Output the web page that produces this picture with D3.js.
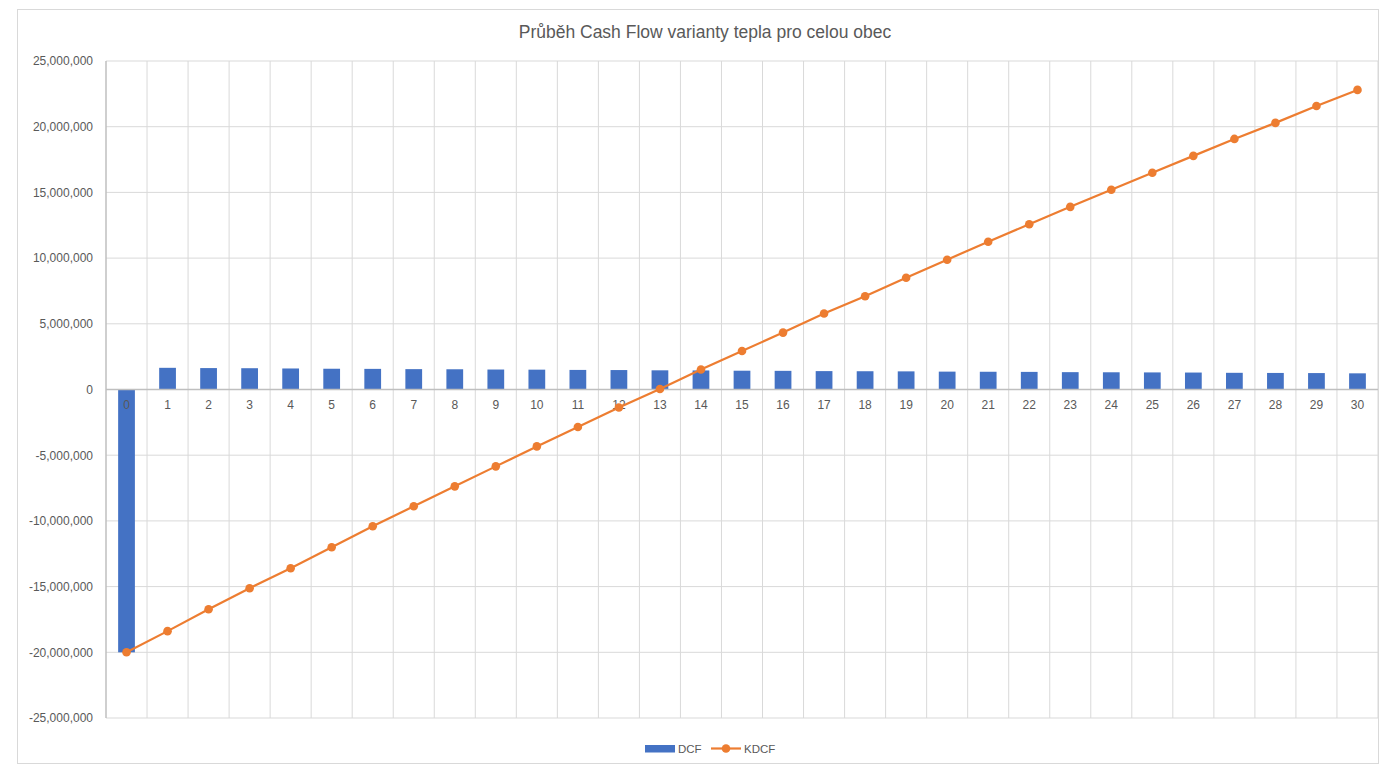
<!DOCTYPE html>
<html><head><meta charset="utf-8">
<script src="https://cdn.jsdelivr.net/npm/d3@7"></script>
<style>body{margin:0;background:#fff;}svg{display:block;font-family:"Liberation Sans",Arial,sans-serif;}</style>
</head><body>
<svg id="c" width="1380" height="765"></svg>
<script>
const title = "Průběh Cash Flow varianty tepla pro celou obec";
const years = d3.range(0, 31).map(String);
const dcf = [-20000000,
  1650000,1630000,1620000,1600000,1580000,1570000,1550000,1540000,1520000,1510000,
  1490000,1480000,1460000,1450000,1430000,1420000,1400000,1390000,1380000,1360000,
  1350000,1340000,1320000,1310000,1300000,1290000,1270000,1260000,1250000,1230000];
const kdcf = [-20000000,-18390000,-16720000,-15120000,-13600000,-12000000,-10410000,-8890000,-7370000,-5850000,-4330000,
  -2850000,-1370000,40000,1520000,2930000,4330000,5780000,7100000,8510000,9880000,
  11250000,12580000,13900000,15200000,16490000,17780000,19070000,20290000,21580000,22800000];
const yTicks = [-25000000,-20000000,-15000000,-10000000,-5000000,0,5000000,10000000,15000000,20000000,25000000];
const seriesNames = ["DCF","KDCF"];
const colors = {DCF:"#4472C4", KDCF:"#ED7D31"};

const svg = d3.select("#c");
const L = 106, R = 1378, T = 61, B = 718;
const textColor = "#595959";

svg.append("rect").attr("x",17.5).attr("y",9.5).attr("width",1361).attr("height",754)
  .attr("fill","#fff").attr("stroke","#d9d9d9");

svg.append("text").attr("x",705).attr("y",38).attr("text-anchor","middle")
  .attr("font-size",17.5).attr("fill",textColor).text(title);

const x = d3.scaleBand().domain(years).range([L,R]).paddingInner(0).paddingOuter(0);
const y = d3.scaleLinear().domain([-25000000,25000000]).range([B,T]);

// horizontal gridlines
svg.append("g").selectAll("line").data(yTicks).join("line")
  .attr("x1",L).attr("x2",R).attr("y1",d=>y(d)).attr("y2",d=>y(d))
  .attr("stroke","#d9d9d9").attr("stroke-width",1);
// vertical gridlines at category boundaries
svg.append("g").selectAll("line").data(years.slice(1).concat(["end"])).join("line")
  .attr("x1",(d,i)=>L+(i+1)*x.bandwidth()).attr("x2",(d,i)=>L+(i+1)*x.bandwidth())
  .attr("y1",T).attr("y2",B).attr("stroke","#d9d9d9").attr("stroke-width",1);

// y axis labels
const yAxis = d3.axisLeft(y).tickValues(yTicks).tickSize(0).tickPadding(13)
  .tickFormat(d=>d3.format(",")(d).replace("−","-"));
const ya = svg.append("g").attr("transform",`translate(${L},0)`).call(yAxis);
ya.select(".domain").remove();
ya.selectAll("text").attr("font-size",12).attr("fill",textColor).attr("font-family","Liberation Sans, Arial, sans-serif");

// left axis line
svg.append("line").attr("x1",L).attr("x2",L).attr("y1",T).attr("y2",B).attr("stroke","#bfbfbf").attr("stroke-width",1.5);

// bars
const bw = x.bandwidth()/2.45;
svg.append("g").selectAll("rect").data(dcf).join("rect")
  .attr("x",(d,i)=>x(years[i])+x.bandwidth()/2-bw/2)
  .attr("width",bw)
  .attr("y",d=>y(Math.max(0,d)))
  .attr("height",d=>Math.abs(y(d)-y(0)))
  .attr("fill",colors.DCF);

// zero axis
svg.append("line").attr("x1",L).attr("x2",R).attr("y1",y(0)).attr("y2",y(0)).attr("stroke","#bfbfbf").attr("stroke-width",1.5);

// x labels
const xAxis = d3.axisBottom(x).tickSize(0).tickPadding(11);
const xa = svg.append("g").attr("transform",`translate(0,${y(0)})`).call(xAxis);
xa.select(".domain").remove();
xa.selectAll("text").attr("font-size",12).attr("fill",textColor).attr("font-family","Liberation Sans, Arial, sans-serif");

// line
const line = d3.line().x((d,i)=>x(years[i])+x.bandwidth()/2).y(d=>y(d));
svg.append("path").datum(kdcf).attr("d",line).attr("fill","none").attr("stroke",colors.KDCF).attr("stroke-width",2.2);
svg.append("g").selectAll("circle").data(kdcf).join("circle")
  .attr("cx",(d,i)=>x(years[i])+x.bandwidth()/2).attr("cy",d=>y(d)).attr("r",4.3)
  .attr("fill",colors.KDCF);

// legend
const lg = svg.append("g");
lg.append("rect").attr("x",645).attr("y",745).attr("width",30).attr("height",7.5).attr("fill",colors.DCF);
lg.append("text").attr("x",678).attr("y",752.5).attr("font-size",11.5).attr("fill",textColor).text(seriesNames[0]);
lg.append("line").attr("x1",711).attr("x2",741).attr("y1",748.5).attr("y2",748.5).attr("stroke",colors.KDCF).attr("stroke-width",2.2);
lg.append("circle").attr("cx",726).attr("cy",748.5).attr("r",4.3).attr("fill",colors.KDCF);
lg.append("text").attr("x",744).attr("y",752.5).attr("font-size",11.5).attr("fill",textColor).text(seriesNames[1]);
</script>
</body></html>
